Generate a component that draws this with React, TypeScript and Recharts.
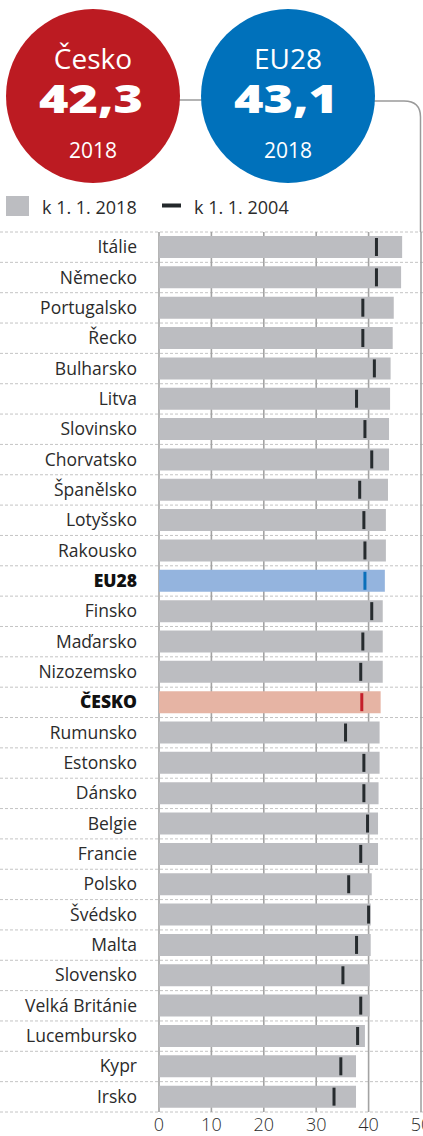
import type { ReactElement } from 'react';
import { Bar, BarChart, CartesianGrid, Cell, XAxis, YAxis } from 'recharts';

const countries = [
  'Itálie', 'Německo', 'Portugalsko', 'Řecko', 'Bulharsko', 'Litva', 'Slovinsko', 'Chorvatsko',
  'Španělsko', 'Lotyšsko', 'Rakousko', 'EU28', 'Finsko', 'Maďarsko', 'Nizozemsko', 'ČESKO',
  'Rumunsko', 'Estonsko', 'Dánsko', 'Belgie', 'Francie', 'Polsko', 'Švédsko', 'Malta',
  'Slovensko', 'Velká Británie', 'Lucembursko', 'Kypr', 'Irsko',
];

const median2018 = [
  46.4, 46.2, 44.8, 44.6, 44.2, 44.1, 43.9, 43.9, 43.7, 43.3, 43.3, 43.1, 42.7, 42.7, 42.7,
  42.3, 42.1, 42.1, 41.9, 41.8, 41.8, 40.6, 40.4, 40.4, 40.2, 40.2, 39.3, 37.6, 37.6,
];

const median2004 = [
  41.5, 41.5, 38.9, 38.9, 41.1, 37.7, 39.3, 40.6, 38.3, 39.1, 39.3, 39.3, 40.6, 38.9, 38.5,
  38.7, 35.6, 39.1, 39.1, 39.8, 38.5, 36.2, 40.0, 37.7, 35.1, 38.5, 37.9, 34.7, 33.4,
];

const xTicks = [0, 10, 20, 30, 40, 50];

const headline = [
  { label: 'Česko', value: '42,3', year: '2018' },
  { label: 'EU28', value: '43,1', year: '2018' },
];

const data = countries.map((name, i) => ({ name, v2018: median2018[i], v2004: median2004[i] }));

const WIDTH = 423;
const HEIGHT = 1136;
const PLOT_TOP = 232;
const PLOT_BOTTOM = 1112;
const FONT = '"Open Sans", "Noto Sans", sans-serif';

const barFill = (name: string) =>
  name === 'EU28' ? '#94b4de' : name === 'ČESKO' ? '#e6b4a4' : '#bcbdc1';
const markFill = (name: string) =>
  name === 'EU28' ? '#0a6fba' : name === 'ČESKO' ? '#c41f2a' : '#262b2e';

function CountryTick(props: any): ReactElement {
  const { x, y, payload } = props;
  const name = String(payload.value);
  const bold = name === 'EU28' || name === 'ČESKO';
  return (
    <text
      x={x - 14}
      y={y}
      dy={6}
      textAnchor="end"
      fill={bold ? '#111' : '#2b2b2b'}
      fontSize={17.5}
      fontWeight={bold ? 800 : 400}
      fontFamily={FONT}
    >
      {name}
    </text>
  );
}

function ValueTick(props: any): ReactElement {
  const { x, y, payload } = props;
  return (
    <text x={x} y={y} dy={11} textAnchor="middle" fill="#2b2b2b" fontSize={18} fontWeight={300} fontFamily={FONT}>
      {payload.value}
    </text>
  );
}

function Marker(props: any): ReactElement {
  const { x, y, width, height, payload } = props;
  if (!(height > 0)) return <g />;
  return <rect x={x + width - 1.5} y={y + 2} width={3} height={height - 4} fill={markFill(payload.name)} />;
}

function Header(): ReactElement {
  const circles = [
    { cx: 93, cy: 96, fill: '#bc1b22' },
    { cx: 288, cy: 96, fill: '#0071bb' },
  ];
  return (
    <svg width={WIDTH} height={240} style={{ position: 'absolute', left: 0, top: 0, pointerEvents: 'none' }}>
      <line x1={178} y1={100} x2={204} y2={100} stroke="#9a9a9a" strokeWidth={1.5} />
      <path d="M373,101 H404 Q420.5,101 420.5,117 V232" fill="none" stroke="#9a9a9a" strokeWidth={1.5} />
      {circles.map((c, i) => (
        <g key={headline[i].label} fontFamily={FONT} fill="#fff" textAnchor="middle">
          <circle cx={c.cx} cy={c.cy} r={87} fill={c.fill} />
          <text x={c.cx} y={69} fontSize={28} fontWeight={500}>
            {headline[i].label}
          </text>
          <text x={c.cx - 2} y={113} fontSize={39} fontWeight={800} textLength={104} lengthAdjust="spacingAndGlyphs">
            {headline[i].value}
          </text>
          <text x={c.cx} y={158} fontSize={21} fontWeight={400}>
            {headline[i].year}
          </text>
        </g>
      ))}
      <rect x={6} y={196} width={23} height={20} fill="#bcbdc1" />
      <text x={42} y={214} fontSize={18} fontFamily={FONT} fill="#2b2b2b">
        k 1. 1. 2018
      </text>
      <rect x={162} y={203.5} width={19} height={4} fill="#23282b" />
      <text x={194} y={214} fontSize={18} fontFamily={FONT} fill="#2b2b2b">
        k 1. 1. 2004
      </text>
    </svg>
  );
}

export default function App(): ReactElement {
  const rowH = (PLOT_BOTTOM - PLOT_TOP) / countries.length;
  return (
    <div style={{ position: 'absolute', left: 0, top: 0, width: WIDTH, height: HEIGHT, background: '#fff' }}>
      <BarChart
        width={WIDTH}
        height={HEIGHT}
        data={data}
        layout="vertical"
        margin={{ top: PLOT_TOP, right: 2, bottom: 0, left: 0 }}
        barSize={22}
        barGap={-22}
      >
        <CartesianGrid
          x={0}
          width={WIDTH}
          vertical={false}
          stroke="#c4c4c4"
          strokeDasharray="3 2"
          horizontalCoordinatesGenerator={() =>
            Array.from({ length: countries.length + 1 }, (_, i) => PLOT_TOP + i * rowH)
          }
        />
        <CartesianGrid horizontal={false} stroke="#a3a3a3" strokeWidth={1.6} />
        <XAxis
          type="number"
          domain={[0, 50]}
          ticks={xTicks}
          axisLine={false}
          tickLine={false}
          height={24}
          tick={<ValueTick />}
          interval={0}
        />
        <YAxis
          type="category"
          dataKey="name"
          width={159}
          axisLine={false}
          tickLine={false}
          tick={<CountryTick />}
          interval={0}
        />
        <Bar dataKey="v2018" isAnimationActive={false}>
          {data.map((d) => (
            <Cell key={d.name} fill={barFill(d.name)} />
          ))}
        </Bar>
        <Bar dataKey="v2004" isAnimationActive={false} shape={<Marker />} />
      </BarChart>
      <Header />
    </div>
  );
}
